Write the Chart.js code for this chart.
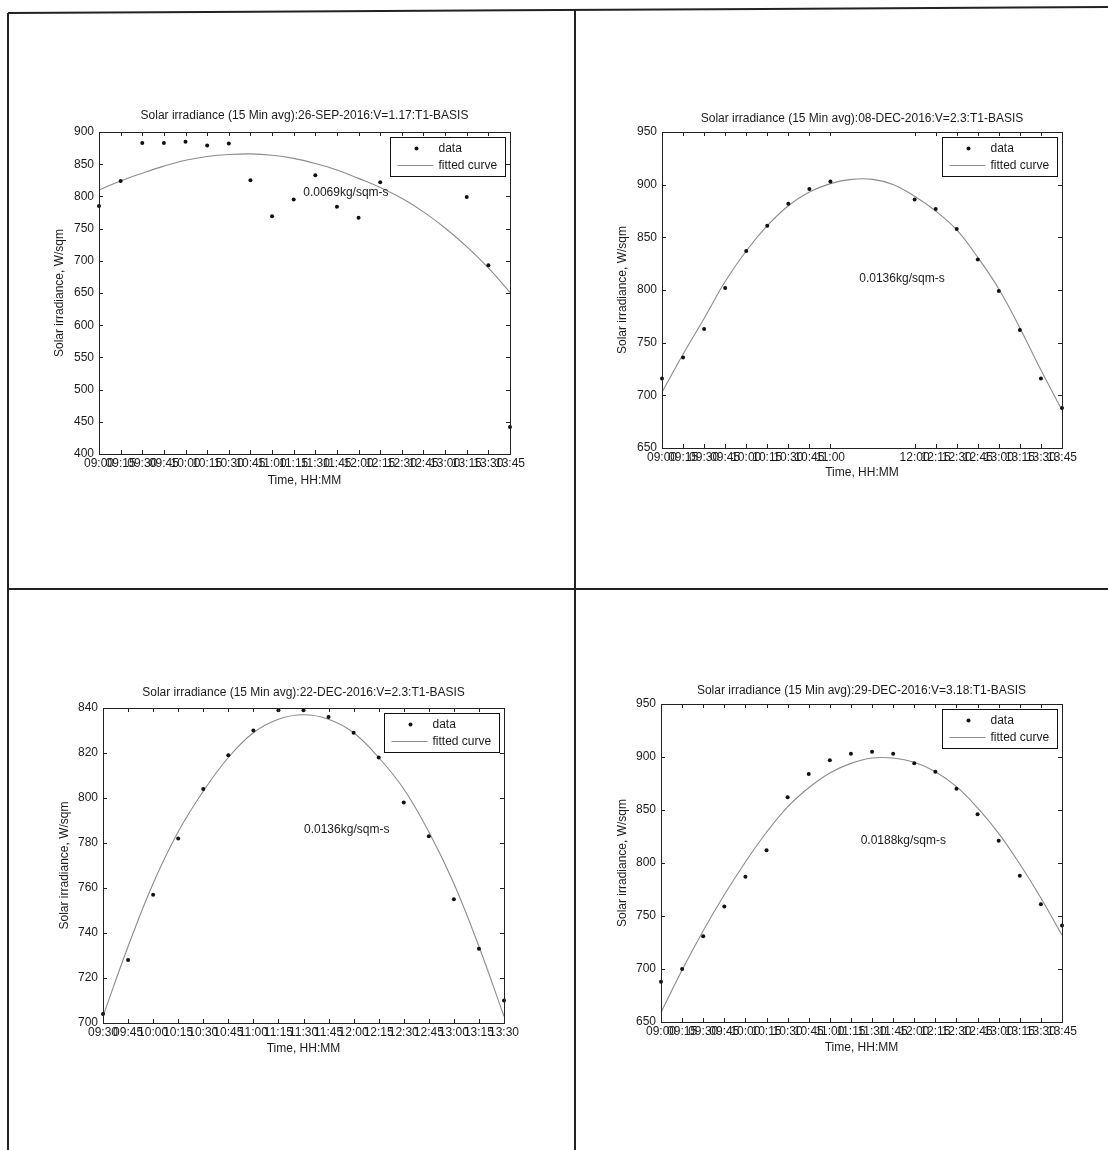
<!DOCTYPE html>
<html lang="en">
<head>
    <meta charset="UTF-8">
    <title>Solar irradiance - 15 min averages</title>
    <script src="https://cdn.jsdelivr.net/npm/chart.js@4.4.1/dist/chart.umd.min.js"></script>
    <style>
        body {
            margin: 0;
            background: #fff;
        }
        #page {
            position: relative;
            width: 1108px;
            height: 1150px;
            overflow: hidden;
        }
        .rule {
            position: absolute;
            background: #222;
        }
        canvas {
            position: absolute;
        }
    </style>
</head>
<body>
<div id="page">
    <div class="rule" style="left:8px;top:12px;width:1100px;height:2px;transform:rotate(-0.31deg);transform-origin:0 0;"></div>
    <div class="rule" style="left:7px;top:13px;width:2px;height:1137px;"></div>
    <div class="rule" style="left:574px;top:10px;width:2px;height:1140px;"></div>
    <div class="rule" style="left:8px;top:588px;width:1100px;height:2px;"></div>

    <canvas id="chart1" width="540" height="415"></canvas>
    <canvas id="chart2" width="515" height="410"></canvas>
    <canvas id="chart3" width="540" height="405"></canvas>
    <canvas id="chart4" width="515" height="405"></canvas>
</div>

<script>
    // --- data ---
    const times = ['09:00', '09:15', '09:30', '09:45', '10:00', '10:15', '10:30', '10:45', '11:00', '11:15',
                   '11:30', '11:45', '12:00', '12:15', '12:30', '12:45', '13:00', '13:15', '13:30', '13:45'];
    const timesDec22 = ['09:30', '09:45', '10:00', '10:15', '10:30', '10:45', '11:00', '11:15', '11:30',
                        '11:45', '12:00', '12:15', '12:30', '12:45', '13:00', '13:15', '13:30'];
    // 08-DEC has no samples 11:15-11:45, so those ticks carry no label
    const ticksDec08 = ['09:00', '09:15', '09:30', '09:45', '10:00', '10:15', '10:30', '10:45', '11:00', '',
                        '', '', '12:00', '12:15', '12:30', '12:45', '13:00', '13:15', '13:30', '13:45'];

    // 26-SEP-2016
    const dataSep26 = [785, 824, 883, 883, 885, 879, 882, 825, 769, 795, 833, 784, 767, 822, null, null, null, 799, 693, 442];
    const fitSep26 = [810, 824, 836, 847, 856, 862, 865, 866, 864, 859, 851, 841, 828, 814, 797, 776, 751, 722, 689, 651];
    // 08-DEC-2016
    const dataDec08 = [716, 736, 763, 802, 837, 861, 882, 896, 903, null, null, null, 886, 877, 858, 829, 799, 762, 716, 688];
    const fitDec08 = [703, 739, 773, 808, 837, 861, 880, 893, 901, 905, 905, 900, 889, 875, 857, 831, 801, 764, 724, 686];
    // 22-DEC-2016
    const dataDec22 = [704, 728, 757, 782, 804, 819, 830, 839, 839, 836, 829, 818, 798, 783, 755, 733, 710];
    const fitDec22 = [703, 734, 762, 785, 803, 818, 829, 835, 837, 835, 829, 818, 804, 785, 762, 734, 703];
    // 29-DEC-2016
    const dataDec29 = [688, 700, 731, 759, 787, 812, 862, 884, 897, 903, 905, 903, 894, 886, 870, 846, 821, 788, 761, 741];
    const fitDec29 = [659, 699, 736, 770, 801, 829, 853, 871, 885, 894, 899, 899, 895, 886, 872, 852, 828, 799, 767, 732];

    const FONT = '"Liberation Sans", Arial, Helvetica, sans-serif';
    const INK = '#1b1b1b';
    const FS = 12;
    const LH = FS * 1.2;

    Chart.defaults.font.family = FONT;
    Chart.defaults.font.size = FS;
    Chart.defaults.color = INK;

    // MATLAB-like box: frame, inward ticks on all sides, text label, legend in the corner
    const matlabAxes = {
        id: 'matlabAxes',
        afterDatasetsDraw(chart, args, opts) {
            const ctx = chart.ctx;
            const a = chart.chartArea;
            const xs = chart.scales.x, ys = chart.scales.y;
            ctx.save();
            ctx.strokeStyle = '#222';
            ctx.lineWidth = 1;
            ctx.beginPath();
            xs.ticks.forEach((t, i) => {
                if (!opts.xLabels[i]) return;
                const px = Math.round(xs.getPixelForTick(i)) + 0.5;
                ctx.moveTo(px, a.bottom); ctx.lineTo(px, a.bottom - 4);
                ctx.moveTo(px, a.top); ctx.lineTo(px, a.top + 4);
            });
            ys.ticks.forEach((t, i) => {
                const py = Math.round(ys.getPixelForTick(i)) + 0.5;
                ctx.moveTo(a.left, py); ctx.lineTo(a.left + 4, py);
                ctx.moveTo(a.right, py); ctx.lineTo(a.right - 4, py);
            });
            ctx.stroke();
            ctx.strokeRect(Math.round(a.left) + 0.5, Math.round(a.top) + 0.5,
                           Math.round(a.width), Math.round(a.height));

            // flow rate note
            ctx.font = FS + 'px ' + FONT;
            ctx.fillStyle = INK;
            ctx.textAlign = 'left';
            ctx.textBaseline = 'middle';
            ctx.fillText(opts.note, xs.getPixelForValue(opts.noteAt[0]), ys.getPixelForValue(opts.noteAt[1]));

            // legend box
            const ds = chart.data.datasets;
            const w = 115, h = 39;
            const lx = Math.round(a.right - 5 - w) + 0.5, ly = Math.round(a.top + 5) + 0.5;
            ctx.fillStyle = '#fff';
            ctx.fillRect(lx, ly, w, h);
            ctx.strokeStyle = '#111';
            ctx.strokeRect(lx, ly, w, h);
            ctx.fillStyle = ds[0].backgroundColor;
            ctx.beginPath();
            ctx.arc(lx + 26, ly + 11, 2, 0, Math.PI * 2);
            ctx.fill();
            ctx.strokeStyle = ds[1].borderColor;
            ctx.lineWidth = ds[1].borderWidth;
            ctx.beginPath();
            ctx.moveTo(lx + 7, ly + 28); ctx.lineTo(lx + 43, ly + 28);
            ctx.stroke();
            ctx.fillStyle = INK;
            ctx.fillText(ds[0].label, lx + 48, ly + 11);
            ctx.fillText(ds[1].label, lx + 48, ly + 28);
            ctx.restore();
        }
    };

    function drawPanel(id, p) {
        const canvas = document.getElementById(id);
        canvas.style.left = p.box.x + 'px';
        canvas.style.top = p.box.y + 'px';
        const b = p.box, ar = p.area;

        // paddings worked out so the plot box lands where it is in the figure
        const titleTop = p.titleY - b.y - LH / 2;
        const titleBottom = (ar.t - b.y) - titleTop - LH;
        const yTitlePad = p.yTitleX - b.x - LH / 2;
        const xTitlePad = (b.y + b.h - p.xTitleY) - LH / 2;

        return new Chart(canvas, {
            type: 'line',
            data: {
                labels: p.labels,
                datasets: [{
                    label: 'data',
                    data: p.data,
                    showLine: false,
                    pointRadius: 2,
                    pointHoverRadius: 2,
                    pointBorderWidth: 0,
                    backgroundColor: '#111',
                    borderColor: '#111',
                    clip: false
                }, {
                    label: 'fitted curve',
                    data: p.fit,
                    borderColor: '#8c8c8c',
                    borderWidth: 1.1,
                    pointRadius: 0,
                    tension: 0.4
                }]
            },
            options: {
                responsive: false,
                animation: false,
                layout: { padding: { left: 0, top: 0, bottom: 0, right: b.x + b.w - ar.r } },
                plugins: {
                    legend: { display: false },
                    tooltip: { enabled: false },
                    title: {
                        display: true,
                        text: p.title,
                        fullSize: false,
                        color: INK,
                        font: { size: FS, weight: 'normal' },
                        padding: { top: titleTop, bottom: titleBottom }
                    },
                    matlabAxes: { note: p.note, noteAt: p.noteAt, xLabels: p.tickLabels }
                },
                scales: {
                    x: {
                        type: 'category',
                        offset: false,
                        grid: { display: false, drawTicks: false },
                        border: { display: false },
                        ticks: {
                            autoSkip: false,
                            maxRotation: 0,
                            minRotation: 0,
                            padding: 2,
                            callback: (v, i) => p.tickLabels[i]
                        },
                        title: {
                            display: true,
                            text: 'Time, HH:MM',
                            padding: { top: 0, bottom: xTitlePad }
                        },
                        afterFit: (s) => { s.height = b.y + b.h - ar.b; }
                    },
                    y: {
                        min: p.yMin,
                        max: p.yMax,
                        grid: { display: false, drawTicks: false },
                        border: { display: false },
                        ticks: { stepSize: p.yStep, padding: 5 },
                        title: {
                            display: true,
                            text: 'Solar irradiance, W/sqm',
                            padding: { top: yTitlePad, bottom: 0 }
                        },
                        afterFit: (s) => { s.width = ar.l - b.x; }
                    }
                }
            },
            plugins: [matlabAxes]
        });
    }

    drawPanel('chart1', {
        box: { x: 20, y: 95, w: 540, h: 415 },
        area: { l: 99, t: 132, r: 510, b: 454 },
        titleY: 116, yTitleX: 60, xTitleY: 481,
        title: 'Solar irradiance (15 Min avg):26-SEP-2016:V=1.17:T1-BASIS',
        labels: times, tickLabels: times,
        data: dataSep26, fit: fitSep26,
        yMin: 400, yMax: 900, yStep: 50,
        note: '0.0069kg/sqm-s', noteAt: [9.44, 805.7]
    });

    drawPanel('chart2', {
        box: { x: 585, y: 95, w: 515, h: 410 },
        area: { l: 662, t: 132, r: 1062, b: 448 },
        titleY: 119, yTitleX: 623, xTitleY: 473,
        title: 'Solar irradiance (15 Min avg):08-DEC-2016:V=2.3:T1-BASIS',
        labels: times, tickLabels: ticksDec08,
        data: dataDec08, fit: fitDec08,
        yMin: 650, yMax: 950, yStep: 50,
        note: '0.0136kg/sqm-s', noteAt: [9.37, 811]
    });

    drawPanel('chart3', {
        box: { x: 20, y: 665, w: 540, h: 405 },
        area: { l: 103, t: 708, r: 504, b: 1023 },
        titleY: 693, yTitleX: 65, xTitleY: 1049,
        title: 'Solar irradiance (15 Min avg):22-DEC-2016:V=2.3:T1-BASIS',
        labels: timesDec22, tickLabels: timesDec22,
        data: dataDec22, fit: fitDec22,
        yMin: 700, yMax: 840, yStep: 20,
        note: '0.0136kg/sqm-s', noteAt: [8.02, 785.8]
    });

    drawPanel('chart4', {
        box: { x: 585, y: 665, w: 515, h: 405 },
        area: { l: 661, t: 704, r: 1062, b: 1022 },
        titleY: 691, yTitleX: 623, xTitleY: 1048,
        title: 'Solar irradiance (15 Min avg):29-DEC-2016:V=3.18:T1-BASIS',
        labels: times, tickLabels: times,
        data: dataDec29, fit: fitDec29,
        yMin: 650, yMax: 950, yStep: 50,
        note: '0.0188kg/sqm-s', noteAt: [9.46, 821]
    });
</script>
</body>
</html>
